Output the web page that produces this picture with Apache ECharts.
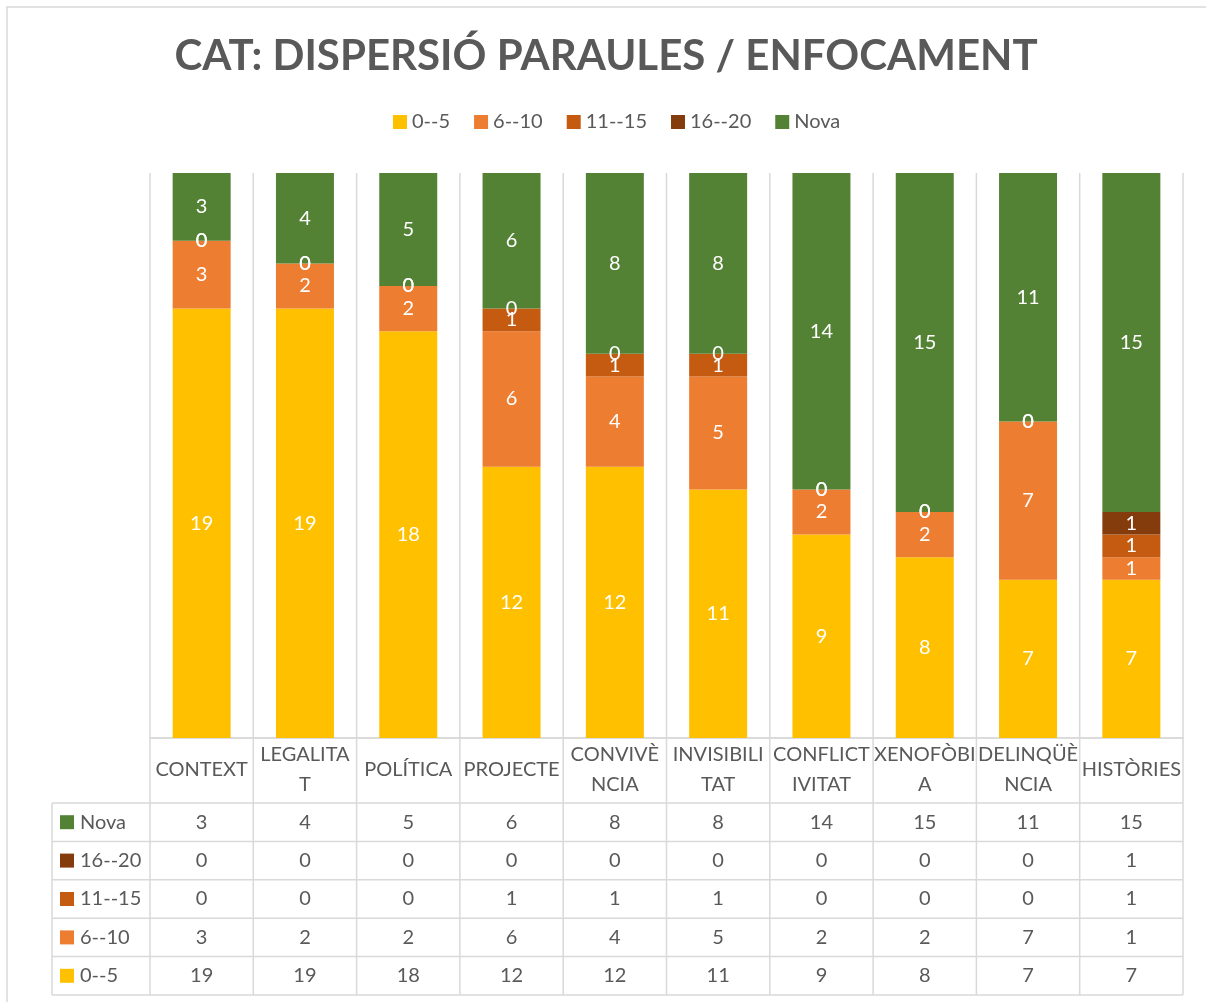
<!DOCTYPE html>
<html>
<head>
<meta charset="utf-8">
<script src="https://cdn.jsdelivr.net/npm/echarts@6/dist/echarts.min.js"></script>
<style>
html,body{margin:0;padding:0;background:#fff;}
#c{width:1206px;height:1002px;}
</style>
</head>
<body>
<div id="c"></div>
<script>
var categories = ['CONTEXT','LEGALITAT','POLÍTICA','PROJECTE','CONVIVÈNCIA','INVISIBILITAT','CONFLICTIVITAT','XENOFÒBIA','DELINQÜÈNCIA','HISTÒRIES'];
var tickLabels = ['CONTEXT','LEGALITA\nT','POLÍTICA','PROJECTE','CONVIVÈ\nNCIA','INVISIBILI\nTAT','CONFLICT\nIVITAT','XENOFÒBI\nA','DELINQÜÈ\nNCIA','HISTÒRIES'];
var seriesNames = ['0--5','6--10','11--15','16--20','Nova'];
var v0_5   = [19,19,18,12,12,11,9,8,7,7];
var v6_10  = [3,2,2,6,4,5,2,2,7,1];
var v11_15 = [0,0,0,1,1,1,0,0,0,1];
var v16_20 = [0,0,0,0,0,0,0,0,0,1];
var vNova  = [3,4,5,6,8,8,14,15,11,15];
var seriesValues = [v0_5, v6_10, v11_15, v16_20, vNova];
var colors = ['#FFC000','#ED7D31','#C55A11','#843C0C','#548235'];

var FONT = 'Lato, "Open Sans", sans-serif';
var TXT = '#595959';
var LINE = '#d9d9d9';

var totals = categories.map(function(_, i){
  return seriesValues.reduce(function(s, arr){ return s + arr[i]; }, 0);
});
var yMax = Math.max.apply(null, totals);

var chart = echarts.init(document.getElementById('c'), null, {renderer:'canvas'});

var series = seriesNames.map(function(name, k){
  return {
    name: name,
    type: 'bar',
    stack: 'all',
    barWidth: 58,
    data: seriesValues[k],
    itemStyle: { color: colors[k] },
    label: {
      show: true,
      position: 'inside',
      color: '#ffffff',
      fontFamily: FONT,
      fontSize: 20,
      formatter: '{c}'
    },
    emphasis: { disabled: true }
  };
});

chart.setOption({
  animation: false,
  backgroundColor: '#ffffff',
  title: {
    text: 'CAT: DISPERSIÓ PARAULES / ENFOCAMENT',
    left: 601,
    textAlign: 'center',
    top: 30,
    textStyle: { fontFamily: FONT, fontWeight: 'bold', fontSize: 42, color: TXT }
  },
  legend: {
    data: seriesNames,
    top: 107,
    left: 388,
    itemWidth: 14,
    itemHeight: 14,
    itemGap: 24,
    icon: 'rect',
    textStyle: { fontFamily: FONT, fontSize: 20, color: TXT, padding: [0,0,0,0] }
  },
  grid: { left: 150, right: 23, top: 173, bottom: 264, containLabel: false },
  xAxis: {
    type: 'category',
    data: categories,
    axisLine: { show: true, lineStyle: { color: LINE, width: 1.5 } },
    axisTick: { show: false },
    splitLine: { show: false },
    axisLabel: {
      interval: 0,
      margin: 32,
      verticalAlign: 'middle',
      lineHeight: 30,
      fontFamily: FONT,
      fontSize: 20,
      color: TXT,
      formatter: function(v, i){ return tickLabels[i]; }
    }
  },
  yAxis: {
    type: 'value',
    min: 0,
    max: yMax,
    show: false,
    splitLine: { show: false }
  },
  series: series
});

// Build data table + gridlines from the axis scale
function buildTable(){
  var centers = categories.map(function(_, i){ return chart.convertToPixel({xAxisIndex:0}, i); });
  var band = centers[1] - centers[0];
  var xLeft = centers[0] - band/2;
  var xRight = centers[centers.length-1] + band/2;
  var yTop = chart.convertToPixel({yAxisIndex:0}, yMax);
  var yBase = chart.convertToPixel({yAxisIndex:0}, 0);
  var headerH = 65;
  var rowH = 38.4;
  var rowsTop = yBase + headerH;
  var nRows = seriesNames.length;
  var tableBottom = rowsTop + rowH * nRows;
  var keyLeft = 52;
  var els = [];
  var ls = { stroke: LINE, lineWidth: 1.5 };

  // outer border
  els.push({ type:'rect', shape:{ x:7, y:7, width:1220, height:1020 }, style:{ fill:'none', stroke:LINE, lineWidth:1.5 }, silent:true });

  // vertical lines at category boundaries
  for (var b = 0; b <= categories.length; b++){
    var x = xLeft + band*b;
    els.push({ type:'line', shape:{ x1:x, y1:yTop, x2:x, y2:tableBottom }, style:ls, silent:true, z:1 });
  }
  // left key column line
  els.push({ type:'line', shape:{ x1:keyLeft, y1:rowsTop, x2:keyLeft, y2:tableBottom }, style:ls, silent:true });
  // horizontal lines
  els.push({ type:'line', shape:{ x1:xLeft, y1:yBase, x2:xRight, y2:yBase }, style:ls, silent:true });
  for (var r = 0; r <= nRows; r++){
    var y = rowsTop + rowH*r;
    els.push({ type:'line', shape:{ x1:keyLeft, y1:y, x2:xRight, y2:y }, style:ls, silent:true });
  }
  // rows: top row = last series
  for (var r2 = 0; r2 < nRows; r2++){
    var k = nRows - 1 - r2;
    var cy = rowsTop + rowH*r2 + rowH/2;
    els.push({ type:'rect', shape:{ x:keyLeft+8, y:cy-7, width:14, height:14 }, style:{ fill: colors[k] }, silent:true });
    els.push({ type:'text', x:keyLeft+28, y:cy, style:{ text: seriesNames[k], fill:TXT, font:'20px ' + FONT, verticalAlign:'middle', align:'left' }, silent:true });
    for (var i = 0; i < categories.length; i++){
      els.push({ type:'text', x:centers[i], y:cy, style:{ text: String(seriesValues[k][i]), fill:TXT, font:'20px ' + FONT, verticalAlign:'middle', align:'center' }, silent:true });
    }
  }
  chart.setOption({ graphic: { elements: els } });
}
buildTable();
</script>
</body>
</html>
